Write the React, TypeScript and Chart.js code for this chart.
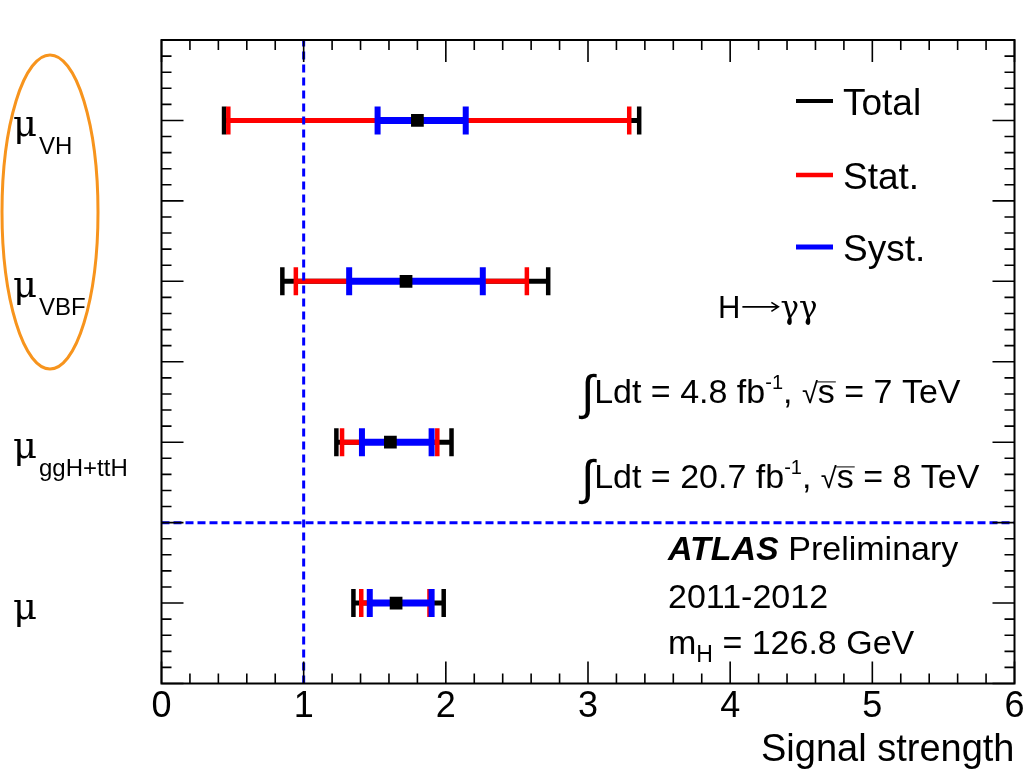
import React, { useEffect, useRef } from 'react';
import { Chart, registerables } from 'chart.js';

Chart.register(...registerables);

// ---------------- data ----------------
const categoryMain = ['μ', 'μ', 'μ', 'μ'];
const categorySub = ['VH', 'VBF', 'ggH+ttH', ''];
const rowPositions = [3.5, 2.5, 1.5, 0.5];
const centralValues = [1.8, 1.72, 1.61, 1.65];
const totalLow = [0.44, 0.85, 1.23, 1.35];
const totalHigh = [3.36, 2.72, 2.04, 1.985];
const statLow = [0.47, 0.945, 1.27, 1.405];
const statHigh = [3.29, 2.57, 1.94, 1.885];
const systLow = [1.52, 1.32, 1.41, 1.465];
const systHigh = [2.14, 2.26, 1.9, 1.9];
const xTickLabels = ['0', '1', '2', '3', '4', '5', '6'];
const legendLabels = ['Total', 'Stat.', 'Syst.'];
const referenceMu = 1;
const separatorRow = 1;
const xMin = 0;
const xMax = 6;
const yMin = 0;
const yMax = 4;

// ---------------- styles ----------------
const SANS = '"Liberation Sans", Arial, Helvetica, sans-serif';
const SERIF = '"DejaVu Serif", "Liberation Serif", serif';
const BLACK = '#000000';
const RED = '#ff0000';
const BLUE = '#0000ff';
const ORANGE = '#f7941d';
const legendColors = [BLACK, RED, BLUE];

type Part = {
  t: string;
  size: number;
  dy?: number;
  bold?: boolean;
  italic?: boolean;
  serif?: boolean;
  over?: boolean;
  arrow?: number;
};

function drawRich(ctx: CanvasRenderingContext2D, x: number, y: number, parts: Part[]) {
  let cx = x;
  for (const p of parts) {
    if (p.arrow) {
      // long right arrow, as drawn by TLatex #rightarrow
      const ay = y - p.size * 0.36;
      const x0 = cx + 2;
      const x1 = cx + p.arrow - 2;
      ctx.save();
      ctx.strokeStyle = BLACK;
      ctx.lineWidth = 1.6;
      ctx.beginPath();
      ctx.moveTo(x0, ay);
      ctx.lineTo(x1, ay);
      ctx.moveTo(x1 - 7, ay - 4.5);
      ctx.lineTo(x1, ay);
      ctx.lineTo(x1 - 7, ay + 4.5);
      ctx.stroke();
      ctx.restore();
      cx += p.arrow;
      continue;
    }
    ctx.font = `${p.italic ? 'italic ' : ''}${p.bold ? 'bold ' : ''}${p.size}px ${p.serif ? SERIF : SANS}`;
    ctx.fillText(p.t, cx, y + (p.dy || 0));
    const w = ctx.measureText(p.t).width;
    if (p.over) {
      ctx.save();
      ctx.strokeStyle = BLACK;
      ctx.lineWidth = 1;
      ctx.beginPath();
      ctx.moveTo(cx - 1, y - p.size * 0.62);
      ctx.lineTo(cx + w + 1, y - p.size * 0.62);
      ctx.stroke();
      ctx.restore();
    }
    cx += w;
  }
  return cx;
}

const decorPlugin = {
  id: 'decor',
  afterDraw(chart: any) {
    const ctx: CanvasRenderingContext2D = chart.ctx;
    const xs = chart.scales.x;
    const ys = chart.scales.y;
    const { left, right, top, bottom } = chart.chartArea;
    ctx.save();

    // ticks (inward, ROOT style)
    ctx.strokeStyle = BLACK;
    ctx.lineWidth = 1.6;
    ctx.beginPath();
    for (let k = 0; k <= (xMax - xMin) * 5; k++) {
      const v = xMin + k * 0.2;
      const px = xs.getPixelForValue(v);
      const major = k % 5 === 0;
      const len = major ? 22 : 10;
      ctx.moveTo(px, bottom);
      ctx.lineTo(px, bottom - len);
      ctx.moveTo(px, top);
      ctx.lineTo(px, top + len);
    }
    for (let k = 0; k <= (yMax - yMin) * 10; k++) {
      const v = yMin + k * 0.1;
      const py = ys.getPixelForValue(v);
      const major = k % 5 === 0;
      const len = major ? 22 : 10;
      ctx.moveTo(left, py);
      ctx.lineTo(left + len, py);
      ctx.moveTo(right, py);
      ctx.lineTo(right - len, py);
    }
    ctx.stroke();

    // frame
    ctx.lineWidth = 2;
    ctx.strokeRect(left, top, right - left, bottom - top);

    // category labels
    ctx.fillStyle = BLACK;
    ctx.textBaseline = 'alphabetic';
    ctx.textAlign = 'left';
    for (let i = 0; i < rowPositions.length; i++) {
      const py = ys.getPixelForValue(rowPositions[i]);
      ctx.font = `37px ${SERIF}`;
      ctx.fillText(categoryMain[i], 13, py + 16);
      if (categorySub[i]) {
        ctx.font = `24px ${SANS}`;
        ctx.fillText(categorySub[i], 39, py + 34);
      }
    }

    // legend
    const legendY = [101, 175, 247];
    const legendW = [4, 4.5, 5];
    for (let i = 0; i < legendLabels.length; i++) {
      ctx.strokeStyle = legendColors[i];
      ctx.lineWidth = legendW[i];
      ctx.beginPath();
      ctx.moveTo(796, legendY[i]);
      ctx.lineTo(833, legendY[i]);
      ctx.stroke();
      ctx.fillStyle = BLACK;
      ctx.font = `37px ${SANS}`;
      ctx.fillText(legendLabels[i], 843, legendY[i] + 14);
    }

    // annotation texts
    ctx.fillStyle = BLACK;
    drawRich(ctx, 718, 318, [
      { t: 'H', size: 31 },
      { t: '', size: 31, arrow: 40 },
      { t: 'γγ', size: 31, serif: true },
    ]);
    drawRich(ctx, 581, 403, [
      { t: '∫', size: 48, dy: 6 },
      { t: 'Ldt = 4.8 fb', size: 34 },
      { t: '-1', size: 20, dy: -14 },
      { t: ', ', size: 34 },
      { t: '√', size: 29 },
      { t: 's', size: 34, over: true },
      { t: ' = 7 TeV', size: 34 },
    ]);
    drawRich(ctx, 581, 488, [
      { t: '∫', size: 48, dy: 6 },
      { t: 'Ldt = 20.7 fb', size: 34 },
      { t: '-1', size: 20, dy: -14 },
      { t: ', ', size: 34 },
      { t: '√', size: 29 },
      { t: 's', size: 34, over: true },
      { t: ' = 8 TeV', size: 34 },
    ]);
    drawRich(ctx, 668, 560, [
      { t: 'ATLAS', size: 34, bold: true, italic: true },
      { t: ' Preliminary', size: 34 },
    ]);
    drawRich(ctx, 668, 608, [{ t: '2011-2012', size: 34 }]);
    drawRich(ctx, 668, 654, [
      { t: 'm', size: 34 },
      { t: 'H', size: 23, dy: 8 },
      { t: ' = 126.8 GeV', size: 34 },
    ]);

    // orange highlight ellipse around the VH / VBF labels
    ctx.strokeStyle = ORANGE;
    ctx.lineWidth = 3;
    ctx.beginPath();
    ctx.ellipse(50, 212, 48, 157, 0, 0, Math.PI * 2);
    ctx.stroke();

    ctx.restore();
  },
};

function barDataset(lo: number, hi: number, y: number, color: string, lineW: number, capW: number) {
  return {
    data: [
      { x: lo, y },
      { x: hi, y },
    ],
    showLine: true,
    borderColor: color,
    borderWidth: lineW,
    borderCapStyle: 'butt',
    pointStyle: 'line',
    rotation: 90,
    pointRadius: 14,
    pointHoverRadius: 14,
    pointBorderWidth: capW,
    pointBorderColor: color,
    pointBackgroundColor: color,
  };
}

export default function App() {
  const ref = useRef<HTMLCanvasElement>(null);

  useEffect(() => {
    const canvas = ref.current;
    if (!canvas) return;

    const datasets: any[] = [];
    datasets.push({
      label: 'central',
      data: centralValues.map((c, i) => ({ x: c, y: rowPositions[i] })),
      pointStyle: 'rect',
      pointRadius: 9,
      pointHoverRadius: 9,
      pointBackgroundColor: BLACK,
      pointBorderWidth: 0,
      showLine: false,
    });
    datasets.push({
      label: 'ref',
      data: [
        { x: referenceMu, y: yMin },
        { x: referenceMu, y: yMax },
      ],
      showLine: true,
      borderColor: BLUE,
      borderWidth: 3,
      borderDash: [8, 5],
      pointRadius: 0,
    });
    datasets.push({
      label: 'sep',
      data: [
        { x: xMin, y: separatorRow },
        { x: xMax, y: separatorRow },
      ],
      showLine: true,
      borderColor: BLUE,
      borderWidth: 3,
      borderDash: [8, 4],
      pointRadius: 0,
    });
    for (let i = 0; i < rowPositions.length; i++)
      datasets.push(barDataset(systLow[i], systHigh[i], rowPositions[i], BLUE, 7, 6));
    for (let i = 0; i < rowPositions.length; i++)
      datasets.push(barDataset(statLow[i], statHigh[i], rowPositions[i], RED, 5, 4.5));
    for (let i = 0; i < rowPositions.length; i++)
      datasets.push(barDataset(totalLow[i], totalHigh[i], rowPositions[i], BLACK, 5, 4.5));

    const chart = new Chart(canvas, {
      type: 'scatter',
      data: { datasets },
      options: {
        animation: false,
        responsive: false,
        events: [],
        layout: { autoPadding: false, padding: { left: 161.5, right: 10.5, top: 40, bottom: 4.5 } },
        plugins: { legend: { display: false }, tooltip: { enabled: false } },
        scales: {
          x: {
            type: 'linear',
            min: xMin,
            max: xMax,
            position: 'bottom',
            grid: { display: false, drawTicks: false },
            border: { display: false },
            afterFit: (scale: any) => {
              scale.paddingLeft = 0;
              scale.paddingRight = 0;
            },
            ticks: {
              stepSize: 1,
              padding: 2.4,
              color: BLACK,
              maxRotation: 0,
              autoSkip: false,
              font: { family: SANS, size: 36 },
              callback: (v: any, i: number) => xTickLabels[i] ?? String(v),
            },
            title: {
              display: true,
              text: 'Signal strength',
              align: 'end',
              color: BLACK,
              font: { family: SANS, size: 38, lineHeight: 1 },
              padding: { top: 0, bottom: 0 },
            },
          },
          y: { type: 'linear', min: yMin, max: yMax, display: false },
        },
      } as any,
      plugins: [decorPlugin],
    });
    return () => chart.destroy();
  }, []);

  return (
    <div style={{ position: 'fixed', left: 0, top: 0, width: 1025, height: 774, background: '#ffffff' }}>
      <canvas ref={ref} width={1025} height={774} style={{ display: 'block', width: 1025, height: 774 }} />
    </div>
  );
}
